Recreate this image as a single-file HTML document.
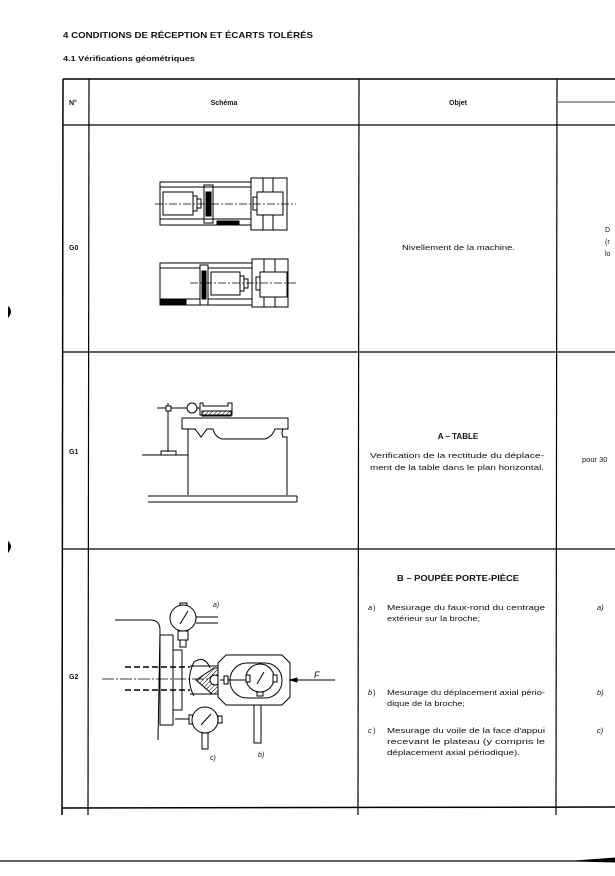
<!DOCTYPE html>
<html><head><meta charset="utf-8"><style>
html,body{margin:0;padding:0;background:#fff;}
svg{display:block;}
text{font-family:"Liberation Sans",sans-serif;fill:#111;}
</style></head><body>
<svg width="615" height="876" viewBox="0 0 615 876" xmlns="http://www.w3.org/2000/svg">
<defs>
<pattern id="h" width="3" height="3" patternUnits="userSpaceOnUse" patternTransform="rotate(45)"><line x1="0" y1="0" x2="0" y2="3" stroke="#000" stroke-width="1"/></pattern>
</defs>
<text x="63" y="38" font-size="8.5" font-weight="bold" textLength="250" lengthAdjust="spacingAndGlyphs">4  CONDITIONS DE RÉCEPTION ET ÉCARTS TOLÉRÉS</text>
<text x="63" y="61" font-size="7.5" font-weight="bold" textLength="132" lengthAdjust="spacingAndGlyphs">4.1   Vérifications géométriques</text>

<g stroke="#000" fill="none">
<line x1="63" y1="79" x2="615" y2="79" stroke-width="1.5"/>
<line x1="558" y1="102" x2="615" y2="102" stroke-width="0.8"/>
<line x1="63" y1="125" x2="615" y2="125" stroke-width="1.3"/>
<line x1="63" y1="352" x2="615" y2="352" stroke-width="1.3"/>
<line x1="63" y1="549" x2="615" y2="549" stroke-width="1.3"/>
<line x1="62" y1="808" x2="615" y2="807" stroke-width="1.5"/>
<line x1="63" y1="79" x2="62" y2="815" stroke-width="1.5"/>
<line x1="89" y1="79" x2="88" y2="815" stroke-width="1.2"/>
<line x1="359" y1="79" x2="358" y2="815" stroke-width="1.2"/>
<line x1="557" y1="79" x2="556" y2="815" stroke-width="1.2"/>
<line x1="0" y1="861" x2="580" y2="861" stroke-width="1.2"/>
<path d="M575 861 L615 858 L615 862 Z" fill="#000"/>
</g>
<path d="M8 306 Q14 311 8 318 Z" fill="#000"/>
<path d="M8 541 Q14 546 8 553 Z" fill="#000"/>

<text x="69" y="105" font-size="7" font-weight="bold">N°</text>
<text x="224" y="105" font-size="7" font-weight="bold" text-anchor="middle">Schéma</text>
<text x="458" y="105" font-size="7" font-weight="bold" text-anchor="middle">Objet</text>

<text x="69" y="250" font-size="7" font-weight="bold">G0</text>
<text x="69" y="454" font-size="7" font-weight="bold">G1</text>
<text x="69" y="679" font-size="7" font-weight="bold">G2</text>

<text x="402" y="250" font-size="7.5" textLength="113" lengthAdjust="spacingAndGlyphs">Nivellement de la machine.</text>
<text x="605" y="232" font-size="7">D</text>
<text x="605" y="244" font-size="7">(r</text>
<text x="605" y="256" font-size="7">lo</text>

<text x="458" y="439" font-size="8" font-weight="bold" text-anchor="middle">A – TABLE</text>
<text x="370" y="458" font-size="7.5" textLength="174" lengthAdjust="spacingAndGlyphs">Verification de la rectitude du déplace-</text>
<text x="370" y="470" font-size="7.5" textLength="174" lengthAdjust="spacingAndGlyphs">ment de la table dans le plan horizontal.</text>
<text x="582" y="462" font-size="7.5">pour 30</text>

<text x="458" y="581" font-size="8" font-weight="bold" text-anchor="middle" textLength="122" lengthAdjust="spacingAndGlyphs">B – POUPÉE PORTE-PIÈCE</text>
<g font-size="7.5">
<text x="368" y="610" font-style="italic">a</text><text x="373" y="610">)</text>
<text x="387" y="610" textLength="158" lengthAdjust="spacingAndGlyphs">Mesurage du faux-rond du centrage</text>
<text x="387" y="621" textLength="93" lengthAdjust="spacingAndGlyphs">extérieur  sur  la  broche;</text>
<text x="368" y="695" font-style="italic">b</text><text x="373" y="695">)</text>
<text x="387" y="695" textLength="158" lengthAdjust="spacingAndGlyphs">Mesurage du déplacement axial pério-</text>
<text x="387" y="706" textLength="78" lengthAdjust="spacingAndGlyphs">dique de la broche;</text>
<text x="368" y="733" font-style="italic">c</text><text x="373" y="733">)</text>
<text x="387" y="733" textLength="158" lengthAdjust="spacingAndGlyphs">Mesurage du voile de la face d'appui</text>
<text x="387" y="744" textLength="158" lengthAdjust="spacingAndGlyphs">recevant  le  plateau  (y  compris  le</text>
<text x="387" y="755" textLength="133" lengthAdjust="spacingAndGlyphs">déplacement   axial   périodique).</text>
<text x="597" y="610" font-style="italic">a)</text>
<text x="597" y="695" font-style="italic">b)</text>
<text x="597" y="733" font-style="italic">c)</text>
</g>

<!-- G0 drawings -->
<g stroke="#000" fill="none" stroke-width="1">
<rect x="160" y="182" width="92" height="43"/>
<line x1="160" y1="187" x2="252" y2="187"/>
<line x1="160" y1="219" x2="252" y2="219"/>
<rect x="163" y="192" width="30" height="23"/>
<rect x="193" y="196" width="4" height="15"/><rect x="197" y="199" width="4" height="9"/>
<rect x="204" y="185" width="9" height="38"/>
<rect x="206" y="192" width="5" height="24" fill="#000"/>
<rect x="217" y="221" width="22" height="3" fill="#000"/>
<rect x="251" y="178" width="36" height="52" fill="#fff"/>
<line x1="263" y1="178" x2="263" y2="230"/><line x1="273" y1="178" x2="273" y2="230"/>
<rect x="257" y="192" width="26" height="23" fill="#fff"/>
<rect x="253" y="197" width="4" height="13"/>
<line x1="155" y1="204" x2="296" y2="204" stroke-dasharray="8 2 2 2" stroke-width="0.8"/>

<rect x="160" y="263" width="93" height="42"/>
<line x1="160" y1="268" x2="253" y2="268"/>
<line x1="160" y1="299" x2="253" y2="299"/>
<rect x="161" y="300" width="25" height="4" fill="#000"/>
<rect x="200" y="265" width="8" height="40" fill="#fff"/>
<rect x="202" y="271" width="4" height="28" fill="#000"/>
<rect x="211" y="272" width="29" height="23"/>
<rect x="240" y="276" width="4" height="15"/><rect x="244" y="279" width="4" height="9"/>
<rect x="252" y="259" width="36" height="48" fill="#fff"/>
<line x1="264" y1="259" x2="264" y2="307"/><line x1="275" y1="259" x2="275" y2="307"/>
<rect x="260" y="272" width="27" height="25" fill="#fff"/>
<rect x="256" y="277" width="4" height="13"/>
<line x1="190" y1="283" x2="298" y2="283" stroke-dasharray="8 2 2 2" stroke-width="0.8"/>
</g>

<!-- G1 drawing -->
<g stroke="#000" fill="none" stroke-width="1">
<path d="M182 418 L288 418 L288 429 L283 429 Q281 433 283 437 L287 437 L287 495"/>
<path d="M182 418 L182 429 L188 429 L188 495"/>
<path d="M188 429 L195 429 L201 437 L207 429 L213 429 Q215 437 222 439 L265 439 Q272 437 275 429 L283 429"/>
<line x1="148" y1="496" x2="297" y2="496"/>
<line x1="148" y1="502" x2="297" y2="502"/>
<line x1="297" y1="496" x2="297" y2="502"/>
<line x1="142" y1="455" x2="188" y2="455"/>
<line x1="168" y1="403" x2="168" y2="452"/>
<rect x="161" y="451" width="15" height="4"/>
<line x1="157" y1="408" x2="200" y2="408"/>
<rect x="166" y="406" width="5" height="5" fill="#fff"/>
<circle cx="192" cy="408" r="5" fill="#fff"/>
<path d="M200 403 L203 403 L203 406 L228 406 L228 403 L232 403 L232 415 L200 415 Z"/>
<rect x="202" y="411" width="29" height="5" fill="url(#h)"/>
</g>

<!-- G2 drawing -->
<g stroke="#000" fill="none" stroke-width="1">
<path d="M115 620 L152 620 Q160 621 160 630 L158 740"/>
<rect x="160" y="635" width="13" height="90"/>
<rect x="173" y="650" width="9" height="60"/>
<line x1="125" y1="667" x2="190" y2="667" stroke-dasharray="6 3" stroke-width="1.4"/>
<line x1="125" y1="690" x2="190" y2="690" stroke-dasharray="6 3" stroke-width="1.4"/>
<line x1="102" y1="679" x2="290" y2="679" stroke-dasharray="12 2 2 2" stroke-width="0.8"/>
<line x1="190" y1="666" x2="225" y2="666"/>
<line x1="190" y1="694" x2="225" y2="694"/>
<path d="M194 696 Q185 680 194 662 Q205 655 210 668" />
<path d="M196 680 L214 668 L222 668 L222 694 L212 694 Z" fill="url(#h)"/>
<circle cx="215" cy="680" r="5" fill="#fff"/>
<path d="M226 655 L282 655 L290 663 L290 697 L282 705 L226 705 L218 697 L218 663 Z" fill="#fff"/>
<rect x="230" y="663" width="52" height="35" rx="17"/>
<line x1="220" y1="680" x2="246" y2="680"/>
<rect x="224" y="676" width="4" height="8" fill="#fff"/>
<circle cx="260" cy="678" r="14" fill="#fff"/>
<line x1="257" y1="684" x2="264" y2="672"/>
<rect x="246" y="675" width="4" height="7" fill="#fff"/>
<rect x="273" y="675" width="4" height="7" fill="#fff"/>
<rect x="257" y="692" width="6" height="4" fill="#fff"/>
<rect x="254" y="705" width="7" height="38" fill="#fff"/>
<line x1="335" y1="680" x2="292" y2="680"/>
<path d="M290 680 L297 678 L297 682 Z" fill="#000"/>
<rect x="180" y="603" width="7" height="4" fill="#fff"/>
<line x1="196" y1="617" x2="218" y2="617"/><line x1="196" y1="623" x2="218" y2="623"/>
<circle cx="183" cy="618" r="13" fill="#fff"/>
<line x1="180" y1="624" x2="188" y2="611"/>
<rect x="178" y="631" width="10" height="9" fill="#fff"/>
<rect x="180" y="640" width="6" height="7"/>
<line x1="175" y1="719" x2="193" y2="719"/>
<rect x="189" y="715" width="4" height="9" fill="#fff"/>
<circle cx="205" cy="720" r="13" fill="#fff"/>
<line x1="201" y1="725" x2="211" y2="714"/>
<rect x="218" y="716" width="4" height="7" fill="#fff"/>
<rect x="202" y="733" width="6" height="16" fill="#fff"/>
</g>
<g font-size="7" font-style="italic">
<text x="213" y="607">a)</text>
<text x="258" y="757">b)</text>
<text x="210" y="760">c)</text>
<text x="314" y="678" font-size="9">F</text>
</g>
</svg>
</body></html>
